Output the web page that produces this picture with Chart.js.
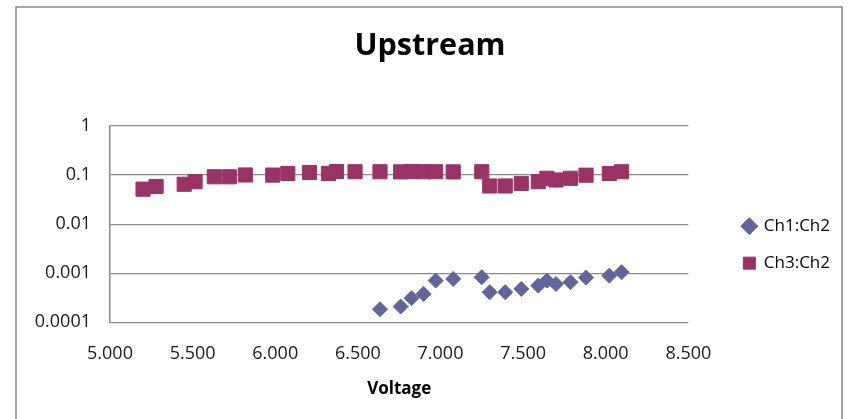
<!DOCTYPE html>
<html>
<head>
<meta charset="utf-8">
<title>Upstream</title>
<script src="https://cdn.jsdelivr.net/npm/chart.js@4/dist/chart.umd.min.js"></script>
<style>
  html, body { margin: 0; padding: 0; background: #fff; }
  #wrap { width: 848px; height: 419px; }
</style>
</head>
<body>
<div id="wrap"><canvas id="upstreamChart" width="848" height="419"></canvas></div>
<script>
// ========== DATA ==========
// Ch3:Ch2 ratio vs voltage
const voltageCh3 = [5.200, 5.279, 5.449, 5.515, 5.631, 5.722, 5.819, 5.985, 6.076, 6.207,
                    6.322, 6.371, 6.483, 6.634, 6.759, 6.825, 6.898, 6.971, 7.077, 7.250,
                    7.298, 7.392, 7.489, 7.592, 7.644, 7.699, 7.787, 7.881, 8.022, 8.096];
const ratioCh3 = [0.0516, 0.0586, 0.065, 0.0734, 0.0923, 0.0923, 0.1005, 0.100, 0.108, 0.113,
                  0.108, 0.118, 0.117, 0.117, 0.116, 0.118, 0.117, 0.117, 0.116, 0.117,
                  0.060, 0.060, 0.0675, 0.0734, 0.086, 0.0795, 0.086, 0.0995, 0.108, 0.117];

// Ch1:Ch2 ratio vs voltage
const voltageCh1 = [6.634, 6.759, 6.825, 6.898, 6.971, 7.077, 7.250, 7.298, 7.392, 7.489,
                    7.592, 7.644, 7.699, 7.787, 7.881, 8.022, 8.096];
const ratioCh1 = [0.000185, 0.000209, 0.00031, 0.000379, 0.000707, 0.000766, 0.00083, 0.00041, 0.00041, 0.000479,
                  0.000559, 0.000707, 0.000605, 0.000656, 0.000813, 0.000894, 0.00105];

// Tick values and labels
const xTicks = [5.0, 5.5, 6.0, 6.5, 7.0, 7.5, 8.0, 8.5];
const xTickLabels = ['5.000', '5.500', '6.000', '6.500', '7.000', '7.500', '8.000', '8.500'];
const yTicks = [0.0001, 0.001, 0.01, 0.1, 1];
const yTickLabels = ['0.0001', '0.001', '0.01', '0.1', '1'];

const toPoints = (xs, ys) => xs.map((x, i) => ({ x: x, y: ys[i] }));

// ========== STYLE ==========
Chart.defaults.font.family = "'Open Sans', sans-serif";
Chart.defaults.color = '#1a1a1a';
const gridGray = '#8a8a8a';

// Khung viền ngoài của biểu đồ
const framePlugin = {
  id: 'frame',
  beforeDraw(chart) {
    const ctx = chart.ctx;
    ctx.save();
    ctx.strokeStyle = '#868686';
    ctx.lineWidth = 1.5;
    ctx.strokeRect(16, 7, 826, 430);
    ctx.restore();
  }
};

// ========== CHART ==========
new Chart(document.getElementById('upstreamChart').getContext('2d'), {
  type: 'scatter',
  data: {
    datasets: [
      {
        label: 'Ch1:Ch2',
        data: toPoints(voltageCh1, ratioCh1),
        pointStyle: 'rectRot',
        pointRadius: 7.5,
        borderWidth: 1,
        backgroundColor: '#64649c',
        borderColor: '#64649c'
      },
      {
        label: 'Ch3:Ch2',
        data: toPoints(voltageCh3, ratioCh3),
        pointStyle: 'rect',
        pointRadius: 10,
        borderWidth: 1,
        backgroundColor: '#993366',
        borderColor: '#993366'
      }
    ]
  },
  options: {
    responsive: false,
    animation: false,
    layout: { padding: { left: 20, top: 0, right: 8, bottom: 0 } },
    plugins: {
      tooltip: { enabled: false },
      title: {
        display: true,
        text: 'Upstream',
        color: '#000',
        font: { size: 30.5, weight: 'bold' },
        padding: { top: 28.5, bottom: 60.9 }
      },
      legend: {
        position: 'right',
        fullSize: false,
        align: 'center',
        title: { display: true, text: ' ', font: { size: 10 }, padding: { top: 29, bottom: 0 } },
        labels: {
          usePointStyle: true,
          boxWidth: 12,
          boxHeight: 12,
          padding: 20,
          color: '#000',
          font: { size: 17 }
        }
      }
    },
    scales: {
      x: {
        type: 'linear',
        min: 5,
        max: 8.5,
        afterBuildTicks: s => { s.ticks = xTicks.map(v => ({ value: v })); },
        afterFit: s => { s.height = 96.7; },
        grid: { display: false, drawTicks: false },
        border: { display: false },
        ticks: {
          padding: 20.5,
          font: { size: 18 },
          callback: (v, i) => xTickLabels[i]
        },
        title: {
          display: true,
          text: 'Voltage',
          color: '#000',
          font: { size: 17, weight: 'bold' },
          padding: { top: 0, bottom: 20 }
        }
      },
      y: {
        type: 'logarithmic',
        min: 0.0001,
        max: 1,
        afterBuildTicks: s => { s.ticks = yTicks.map(v => ({ value: v })); },
        afterFit: s => { s.width = 90; },
        grid: { color: gridGray, lineWidth: 1.3, drawTicks: false },
        border: { display: true, color: gridGray, width: 1.5 },
        ticks: {
          padding: 19,
          font: { size: 18 },
          callback: (v, i) => yTickLabels[i]
        }
      },
      // trục giả để đẩy chú giải sang phải
      yPad: {
        type: 'linear',
        position: 'right',
        afterFit: s => { s.width = 35; },
        grid: { display: false, drawTicks: false },
        border: { display: false },
        ticks: { display: false }
      }
    }
  },
  plugins: [framePlugin]
});
</script>
</body>
</html>
